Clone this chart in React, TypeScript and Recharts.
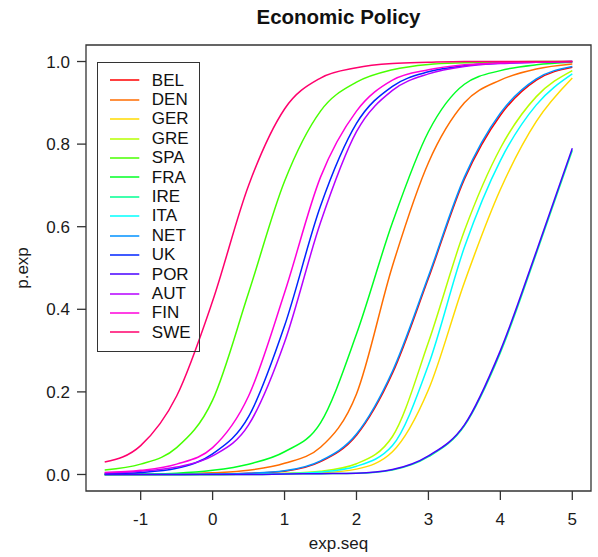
import { LineChart, Line, XAxis, YAxis, Legend, ReferenceArea } from "recharts"

const FONT = "'Liberation Sans', Arial, Helvetica, sans-serif"

// exp.seq grid
const XS = [-1.5, -1, -0.5, 0, 0.5, 1, 1.5, 2, 2.5, 3, 3.5, 4, 4.5, 5]

// p.exp per country
const BEL = [0, 0, 0, 0.001, 0.003, 0.008, 0.031, 0.095, 0.245, 0.475, 0.715, 0.87, 0.955, 0.986]
const DEN = [0, 0, 0.001, 0.004, 0.01, 0.027, 0.066, 0.195, 0.505, 0.755, 0.9, 0.955, 0.982, 0.994]
const GER = [0, 0, 0, 0, 0.001, 0.002, 0.004, 0.013, 0.055, 0.205, 0.465, 0.69, 0.855, 0.96]
const GRE = [0, 0, 0, 0, 0.001, 0.003, 0.008, 0.026, 0.092, 0.32, 0.59, 0.79, 0.915, 0.978]
const SPA = [0.011, 0.025, 0.065, 0.18, 0.44, 0.71, 0.88, 0.95, 0.98, 0.993, 0.997, 0.999, 1, 1]
const FRA = [0, 0.001, 0.003, 0.01, 0.025, 0.055, 0.125, 0.34, 0.61, 0.83, 0.945, 0.978, 0.992, 0.998]
const IRE = [0, 0, 0, 0, 0, 0.001, 0.002, 0.003, 0.011, 0.043, 0.118, 0.295, 0.535, 0.785]
const ITA = [0, 0, 0, 0, 0.001, 0.002, 0.006, 0.02, 0.07, 0.265, 0.55, 0.76, 0.895, 0.97]
const NET = [0, 0, 0, 0.001, 0.003, 0.009, 0.033, 0.098, 0.25, 0.48, 0.72, 0.875, 0.958, 0.988]
const UK = [0.002, 0.005, 0.015, 0.05, 0.14, 0.36, 0.65, 0.85, 0.94, 0.975, 0.99, 0.996, 0.998, 1]
const POR = [0, 0, 0, 0, 0, 0.001, 0.002, 0.003, 0.012, 0.045, 0.12, 0.3, 0.54, 0.79]
const AUT = [0.004, 0.008, 0.018, 0.045, 0.12, 0.32, 0.61, 0.83, 0.93, 0.97, 0.988, 0.995, 0.998, 1]
const FIN = [0.005, 0.01, 0.025, 0.065, 0.19, 0.44, 0.72, 0.88, 0.955, 0.98, 0.992, 0.997, 0.999, 1]
const SWE = [0.03, 0.07, 0.19, 0.42, 0.7, 0.885, 0.96, 0.985, 0.995, 0.998, 1, 1, 1, 1]

const COUNTRIES = ["BEL", "DEN", "GER", "GRE", "SPA", "FRA", "IRE", "ITA", "NET", "UK", "POR", "AUT", "FIN", "SWE"]
const SERIES = [BEL, DEN, GER, GRE, SPA, FRA, IRE, ITA, NET, UK, POR, AUT, FIN, SWE]
// rainbow(14)
const COLORS = [
  "#FF0000", "#FF6D00", "#FFDB00", "#B6FF00", "#49FF00", "#00FF24", "#00FF92",
  "#00FFFF", "#0092FF", "#0024FF", "#4900FF", "#B600FF", "#FF00DB", "#FF006D",
]

const X_TICKS = [-1, 0, 1, 2, 3, 4, 5]
const Y_TICKS = [0, 0.2, 0.4, 0.6, 0.8, 1.0]

const data = XS.map((x, i) => {
  const row: Record<string, number> = { x }
  COUNTRIES.forEach((c, j) => {
    row[c] = SERIES[j][i]
  })
  return row
})

// eslint-disable-next-line @typescript-eslint/no-explicit-any
function LegendBox({ payload }: any) {
  return (
    <div
      style={{
        width: 103,
        height: 290,
        boxSizing: "border-box",
        border: "1.3px solid #333",
        paddingTop: 8,
        fontFamily: FONT,
      }}
    >
      {/* eslint-disable-next-line @typescript-eslint/no-explicit-any */}
      {(payload ?? []).map((p: any) => (
        <div key={p.value} style={{ display: "flex", alignItems: "center", height: 19.4 }}>
          <svg width={30} height={6} style={{ marginLeft: 12, display: "block" }}>
            <line x1={0} y1={3} x2={29.3} y2={3} stroke={p.color} strokeWidth={1.5} />
          </svg>
          <span style={{ marginLeft: 11.5, fontSize: 17, lineHeight: "19.4px", color: "#111" }}>{p.value}</span>
        </div>
      ))}
    </div>
  )
}

export default function App() {
  const tickStyle = { fontSize: 17, fill: "#1a1a1a", fontFamily: FONT }
  return (
    <div style={{ position: "relative", width: 598, height: 557, background: "#fff" }}>
      <style>{"body{margin:0}"}</style>
      <div
        style={{
          position: "absolute",
          left: 86,
          width: 505,
          top: 6.6,
          textAlign: "center",
          fontFamily: FONT,
          fontWeight: 700,
          fontSize: 20.5,
          lineHeight: 1,
          color: "#111",
          zIndex: 1,
        }}
      >
        Economic Policy
      </div>
      <LineChart width={598} height={557} data={data} margin={{ top: 45, right: 7, bottom: 0, left: 0 }}>
        <XAxis
          dataKey="x"
          type="number"
          domain={[-1.76, 5.26]}
          ticks={X_TICKS}
          axisLine={false}
          tickLine={{ stroke: "#333", strokeWidth: 1.3 }}
          tickSize={9}
          tickMargin={13}
          height={66}
          tick={tickStyle}
          label={{ value: "exp.seq", position: "insideBottom", offset: 8, style: { ...tickStyle, textAnchor: "middle" } }}
        />
        <YAxis
          type="number"
          domain={[-0.04, 1.04]}
          ticks={Y_TICKS}
          tickFormatter={(v: number) => v.toFixed(1)}
          axisLine={false}
          tickLine={{ stroke: "#333", strokeWidth: 1.3 }}
          tickSize={9}
          tickMargin={7}
          width={86}
          tick={tickStyle}
          label={{ value: "p.exp", angle: -90, position: "insideLeft", offset: 22, style: { ...tickStyle, textAnchor: "middle" } }}
        />
        {COUNTRIES.map((c, j) => (
          <Line
            key={c}
            type="monotone"
            dataKey={c}
            name={c}
            stroke={COLORS[j]}
            strokeWidth={1.5}
            dot={false}
            activeDot={false}
            isAnimationActive={false}
          />
        ))}
        <ReferenceArea
          x1={-1.76}
          x2={5.26}
          y1={-0.04}
          y2={1.04}
          fill="none"
          stroke="#333"
          strokeWidth={1.3}
          ifOverflow="visible"
        />
        <Legend
          layout="vertical"
          align="center"
          verticalAlign="middle"
          // eslint-disable-next-line @typescript-eslint/no-explicit-any
          itemSorter={(item: any) => COUNTRIES.indexOf(item.value)}
          content={<LegendBox />}
          wrapperStyle={{ left: 97.3, top: 61.7, width: "auto" }}
        />
      </LineChart>
    </div>
  )
}
